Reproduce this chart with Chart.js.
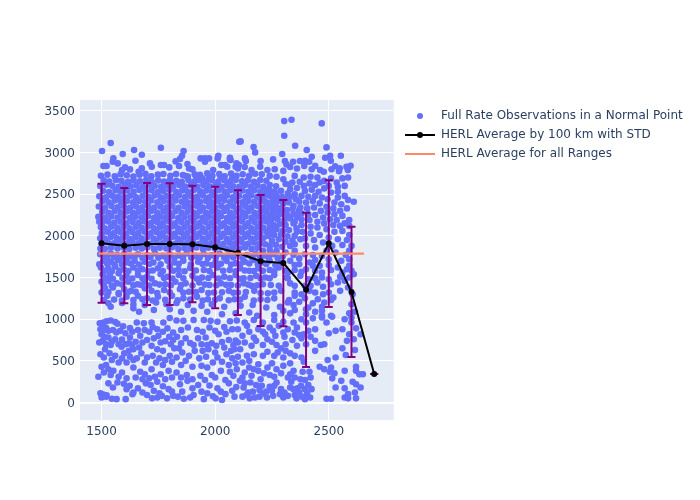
<!DOCTYPE html>
<html lang="en">
<head>
<meta charset="UTF-8">
<title>HERL Average</title>
<style>
  html, body { margin: 0; padding: 0; background: #fff; }
  #wrap { width: 700px; height: 500px; }
</style>
<script src="https://cdn.jsdelivr.net/npm/chart.js@4"></script>
</head>
<body>
<div id="wrap"><canvas id="chart" width="700" height="500"></canvas></div>
<script>
// range (km) of each average, and the averages with their std limits
const rangeBins = [1500, 1600, 1700, 1800, 1900, 2000, 2100, 2200, 2300, 2400, 2500, 2600, 2700];
const herlAvg = [1911, 1882, 1902, 1902, 1900, 1863, 1798, 1695, 1675, 1354, 1911, 1326, 342];
const herlHigh = [2627, 2575, 2635, 2631, 2603, 2590, 2547, 2490, 2430, 2278, 2667, 2110, 342];
const herlLow = [1198, 1190, 1170, 1170, 1202, 1130, 1050, 918, 914, 426, 1146, 546, 342];

// average over all ranges
const allRangeX = [1486, 2655];
const allRangeY = [1787, 1787];

const xTicks = [1500, 2000, 2500];
const yTicks = [0, 500, 1000, 1500, 2000, 2500, 3000, 3500];

const seriesNames = [
  "Full Rate Observations in a Normal Point",
  "HERL Average by 100 km with STD",
  "HERL Average for all Ranges"
];

// observations, scattered outliers on top
const obsTop = [
  [1540,3114],[1502,3018],[1593,2982],[1643,3030],[1677,2974],[1649,2902],[1552,2930],[1549,2890],[1571,2870],
  [1761,3058],[1861,3018],[1854,2962],[1845,2922],[1826,2894],[1713,2870],[1936,2930],[1955,2930],[1973,2930],
  [1955,2890],[2014,2962],[2011,2930],[2065,2938],[2068,2910],[2106,3130],[2043,2850],[2053,2830],[2027,2850],
  [1991,2790],[1508,2838],[1522,2838],[1603,2822],[1625,2798],[1590,2790],[1663,2770],[1677,2810],[1721,2830],
  [1761,2850],[1775,2850],[1798,2822],[1841,2838],[1878,2862],[1885,2810],[1900,2798],[1915,2718],[1871,2718],
  [1944,2690],[1973,2710],[2024,2702],[2075,2690],[2090,2830],[2104,2850],
  [2304,3378],[2336,3394],[2469,3350],[2304,3202],[2112,3134],[2169,3066],[2176,3002],[2352,3082],[2490,3062],
  [2403,3030],[2295,2982],[2506,2962],[2484,2938],[2509,2902],[2553,2962],[2425,2950],[2255,2918],[2200,2898],
  [2307,2898],[2314,2858],[2343,2890],[2373,2898],[2395,2902],[2414,2890],[2131,2930],[2135,2898],[2094,2870],
  [2065,2918],[2528,2836],[2512,2800],[2548,2810],[2578,2830],[2596,2842],[2584,2790],[2545,2776],[2440,2840],
  [2462,2790],[2478,2770],[2425,2800],[2392,2840],[2360,2808],[2330,2826],[2300,2780],[2262,2800],[2230,2790],
  [2198,2830],[2160,2790],[2130,2826],[2100,2808]
];

// the solid band of observations
const obsDense = [
  [1497,2722],[1526,2735],[1558,2716],[1584,2741],[1611,2728],[1640,2712],[1667,2733],[1693,2744],[1719,2716],[1748,2735],[1772,2742],[1803,2721],[1828,2742],[1858,2730],[1880,2712],[1910,2740],[1933,2733],[1965,2752],[1988,2722],[2018,2742],[2042,2716],[2070,2748],[2094,2722],[2121,2740],[2150,2722],[2176,2745],
  [1509,2668],[1534,2651],[1563,2672],[1588,2660],[1617,2649],[1641,2668],[1669,2655],[1697,2673],[1721,2647],[1749,2666],[1775,2652],[1801,2669],[1829,2660],[1853,2648],[1882,2671],[1908,2652],[1931,2668],[1961,2658],[1985,2671],[2013,2648],[2040,2667],[2065,2652],[2090,2672],[2118,2655],[2144,2668],[2171,2650],[2198,2670],[2225,2662],
  [1494,2598],[1521,2614],[1547,2602],[1575,2589],[1602,2610],[1628,2595],[1654,2606],[1682,2590],[1708,2612],[1734,2598],[1762,2589],[1787,2608],[1815,2594],[1842,2610],[1868,2592],[1893,2607],[1921,2590],[1948,2612],[1974,2596],[2001,2606],[2028,2590],[2053,2610],[2079,2596],[2106,2588],[2132,2610],[2158,2592],[2186,2605],[2212,2590],[2240,2610],[2268,2596],
  [1507,2542],[1533,2527],[1561,2548],[1586,2533],[1613,2544],[1641,2528],[1667,2551],[1694,2535],[1720,2547],[1748,2526],[1773,2540],[1800,2552],[1828,2530],[1855,2545],[1880,2529],[1906,2550],[1934,2534],[1961,2546],[1987,2528],[2014,2549],[2041,2533],[2066,2547],[2092,2526],[2120,2544],[2146,2530],[2172,2548],[2199,2532],[2226,2550],
  [1490,2476],[1519,2462],[1546,2483],[1572,2470],[1600,2466],[1626,2481],[1652,2464],[1680,2478],[1706,2468],[1733,2484],[1760,2462],[1786,2477],[1813,2470],[1840,2484],[1867,2465],[1892,2480],[1920,2468],[1946,2486],[1973,2464],[1999,2478],[2026,2470],[2052,2484],[2078,2462],[2105,2480],[2133,2466],[2158,2484],[2185,2470],[2212,2462],[2238,2482],[2266,2468],
  [1504,2416],[1531,2404],[1558,2424],[1585,2408],[1612,2420],[1639,2402],[1665,2418],[1692,2410],[1719,2426],[1746,2404],[1773,2418],[1799,2406],[1826,2424],[1853,2410],[1879,2402],[1906,2422],[1933,2408],[1960,2420],[1986,2404],[2013,2418],[2040,2426],[2066,2406],[2093,2420],[2120,2402],[2146,2418],[2172,2408],[2200,2424],[2226,2404],[2252,2418],
  [1488,2352],[1516,2340],[1544,2358],[1571,2344],[1598,2356],[1625,2338],[1652,2352],[1679,2344],[1705,2360],[1732,2340],[1759,2354],[1786,2342],[1812,2358],[1839,2338],[1866,2352],[1893,2346],[1920,2360],[1946,2340],[1973,2354],[2000,2342],[2027,2358],[2053,2344],[2080,2352],[2107,2338],[2134,2356],[2160,2344],[2187,2358],[2214,2340],[2240,2352],[2270,2344],
  [1503,2290],[1530,2278],[1557,2296],[1584,2282],[1611,2294],[1638,2276],[1664,2290],[1691,2282],[1718,2298],[1745,2278],[1772,2292],[1798,2284],[1825,2296],[1852,2276],[1879,2290],[1906,2280],[1932,2296],[1959,2278],[1986,2292],[2013,2284],[2040,2298],[2066,2276],[2093,2290],[2120,2282],[2146,2296],[2173,2278],[2200,2292],[2226,2284],[2254,2298],
  [1486,2228],[1515,2216],[1543,2234],[1570,2220],[1597,2232],[1624,2214],[1650,2230],[1677,2220],[1704,2236],[1731,2216],[1758,2230],[1784,2222],[1811,2236],[1838,2214],[1865,2228],[1892,2220],[1919,2234],[1945,2216],[1972,2230],[1999,2222],[2026,2236],[2052,2214],[2079,2228],[2106,2220],[2133,2234],[2160,2216],[2186,2230],[2213,2222],[2240,2236],[2268,2216],
  [1490,2170],[1502,2154],[1529,2172],[1556,2158],[1583,2170],[1610,2152],[1637,2168],[1664,2158],[1690,2174],[1717,2154],[1744,2168],[1771,2160],[1798,2174],[1824,2152],[1851,2166],[1878,2158],[1905,2172],[1932,2154],[1958,2168],[1985,2160],[2012,2174],[2039,2152],[2066,2166],[2092,2158],[2119,2172],[2146,2154],[2173,2168],[2200,2160],[2226,2174],
  [1497,2104],[1514,2092],[1542,2110],[1569,2096],[1596,2108],[1623,2090],[1650,2106],[1676,2096],[1703,2112],[1730,2092],[1757,2106],[1784,2098],[1810,2112],[1837,2090],[1864,2104],[1891,2096],[1918,2110],[1944,2092],[1971,2106],[1998,2098],[2025,2112],[2052,2090],[2078,2104],[2105,2096],[2132,2110],[2159,2092],[2186,2106],[2212,2098],[2240,2110],
  [1501,2030],[1528,2048],[1555,2034],[1582,2046],[1609,2028],[1636,2044],[1662,2034],[1689,2050],[1716,2030],[1743,2044],[1770,2036],[1797,2050],[1823,2028],[1850,2042],[1877,2034],[1904,2048],[1931,2030],[1957,2044],[1984,2036],[2011,2050],[2038,2028],[2064,2042],[2091,2034],[2118,2048],[2145,2030],[2172,2044],[2198,2036],[2226,2048],
  [1494,1972],[1514,1968],[1541,1986],[1568,1972],[1595,1984],[1622,1966],[1648,1982],[1675,1972],[1702,1988],[1729,1968],[1756,1982],[1783,1974],[1810,1988],[1836,1966],[1863,1980],[1890,1972],[1917,1986],[1944,1968],[1970,1982],[1997,1974],[2024,1988],[2051,1966],[2078,1980],[2104,1972],[2131,1986],[2158,1968],[2185,1982],[2212,1974],
  [1500,1906],[1527,1924],[1554,1910],[1581,1922],[1608,1904],[1635,1920],[1662,1910],[1688,1926],[1715,1906],[1742,1920],[1769,1912],[1796,1926],[1823,1904],[1849,1918],[1876,1910],[1903,1924],[1930,1906],[1957,1920],[1983,1912],[2010,1926],[2037,1904],[2064,1918],[2090,1910],[2117,1924],[2144,1906],[2171,1920],[2198,1912],
  [1495,1848],[1514,1844],[1541,1862],[1570,1848],[1597,1860],[1622,1842],[1650,1858],[1677,1848],[1702,1864],[1731,1844],[1756,1858],[1785,1850],[1810,1864],[1838,1842],[1865,1856],[1892,1848],[1917,1862],[1946,1844],[1970,1858],[1999,1850],[2024,1864],[2053,1842],[2078,1856],[2106,1848],[2131,1862],[2160,1844],[2186,1858]
];

// right of the band, thinning out towards 2600 km
const obsRight = [
  [2240,2548],[2262,2530],[2290,2540],[2270,2480],[2295,2465],[2280,2420],[2310,2440],[2300,2385],[2325,2400],[2345,2360],[2290,2330],[2315,2310],[2340,2322],[2368,2300],[2290,2262],[2318,2250],[2345,2262],[2275,2200],[2305,2190],[2330,2210],[2360,2225],[2285,2140],[2310,2130],[2345,2150],[2270,2080],[2298,2060],[2325,2070],[2358,2090],[2260,2010],[2290,2020],[2318,1995],[2350,2000],[2250,1940],[2280,1960],[2310,1930],[2340,1945],[2240,1880],[2268,1890],[2295,1870],[2330,1880],
  [2310,2622],[2340,2640],[2372,2650],[2390,2600],[2415,2630],[2440,2610],[2330,2560],[2360,2575],[2395,2540],[2425,2555],[2455,2530],[2480,2570],[2500,2600],[2535,2640],[2560,2690],[2585,2700],[2540,2590],[2570,2600],[2510,2520],[2540,2530],[2570,2480],[2585,2430],[2540,2460],[2610,2410],[2380,2480],[2410,2470],[2440,2480],[2470,2460],[2495,2440],[2525,2400],[2555,2380],[2580,2330],[2370,2410],[2400,2400],[2430,2420],[2460,2390],[2490,2350],[2520,2330],[2550,2300],[2375,2340],[2405,2330],[2435,2340],[2465,2300],[2495,2280],[2525,2260],[2560,2240],[2590,2190],[2380,2270],[2410,2260],[2440,2250],[2475,2220],[2505,2200],[2535,2190],[2570,2150],[2590,2120],[2380,2200],[2415,2190],[2450,2170],[2480,2150],[2520,2130],[2550,2120],[2380,2130],[2420,2110],[2450,2100],[2490,2080],[2525,2050],[2560,2060],[2590,2010],[2385,2050],[2420,2030],[2460,2010],[2500,1980],[2540,1960],[2580,1950],[2600,1880],[2395,1970],[2435,1950],[2475,1920],[2515,1880],[2560,1890],[2590,1820],[2400,1880],[2440,1860],[2490,1820],[2530,1800],[2575,1770],
  [2225,2510],[2255,2490],[2215,2420],[2268,2405],[2250,2350],[2225,2300],[2270,2290],[2255,2240],[2245,2180],[2258,2130],[2240,2060],[2255,2080],[2235,2000],[2220,1900],[2210,1820],[2240,1830],[2270,1820],[2310,1800],[2350,1820],[2330,2620],[2300,2680],[2270,2710],[2240,2720],[2205,2740],[2350,2720],[2390,2700],[2420,2710],[2450,2700],[2480,2660],[2510,2690],[2460,2640],[2350,2500],[2320,2510],[2355,2440],[2330,2470],[2350,2170],[2360,2050],[2375,1960],[2350,1900]
];

// the thinner part below the band
const obsMiddle = [
  [1494,1780],[1515,1760],[1540,1790],[1568,1770],[1600,1785],[1628,1762],[1660,1780],[1700,1770],[1735,1790],[1768,1760],[1800,1780],[1840,1765],[1875,1790],[1912,1760],[1950,1782],[1985,1768],[2020,1785],[2060,1765],[2098,1780],[2140,1770],[2178,1785],[2215,1765],[2255,1780],[2298,1760],[2345,1770],[2395,1780],[2430,1770],[2470,1760],[2555,1700],[2590,1720],
  [1508,1700],[1540,1690],[1572,1710],[1610,1680],[1645,1700],[1690,1690],[1728,1680],[1790,1700],[1820,1680],[1860,1700],[1925,1690],[1962,1670],[2002,1690],[2050,1700],[2090,1670],[2130,1690],[2170,1710],[2208,1680],[2240,1700],[2290,1680],[2330,1700],[2370,1660],[2415,1680],[2460,1640],[2540,1620],[2590,1640],
  [1497,1620],[1530,1610],[1560,1630],[1598,1600],[1640,1620],[1680,1600],[1748,1610],[1800,1630],[1838,1600],[1890,1615],[1950,1590],[2010,1620],[2064,1590],[2110,1610],[2150,1580],[2190,1610],[2240,1590],[2280,1620],[2350,1590],[2400,1600],[2470,1560],[2560,1560],[2600,1580],
  [1505,1540],[1536,1530],[1575,1550],[1610,1520],[1660,1530],[1700,1510],[1760,1540],[1790,1510],[1840,1530],[1900,1520],[1942,1500],[1990,1530],[2040,1510],[2090,1530],[2125,1490],[2180,1520],[2220,1500],[2260,1530],[2315,1500],[2375,1520],[2440,1490],[2500,1480],[2590,1500],
  [1500,1450],[1530,1460],[1568,1430],[1618,1450],[1658,1420],[1690,1450],[1735,1430],[1780,1420],[1825,1450],[1870,1430],[1930,1440],[1975,1410],[2025,1430],[2070,1410],[2125,1430],[2160,1400],[2210,1420],[2280,1400],[2330,1430],[2395,1400],[2475,1390],[2510,1420],[2585,1380],
  [1515,1370],[1550,1380],[1600,1360],[1630,1340],[1690,1370],[1720,1340],[1775,1350],[1845,1360],[1885,1330],[1940,1350],[1995,1320],[2060,1340],[2100,1320],[2172,1340],[2232,1310],[2290,1340],[2350,1320],[2415,1340],[2475,1300],[2605,1300],[2520,1260],
  [1525,1280],[1576,1300],[1610,1270],[1660,1280],[1700,1250],[1748,1270],[1810,1280],[1860,1250],[1920,1270],[1968,1240],[2020,1250],[2085,1240],[2130,1270],[2200,1240],[2260,1250],[2325,1230],[2395,1250],[2452,1240],[2510,1230],[2600,1180],
  [1530,1190],[1590,1195],[1640,1175],[1690,1170],[1740,1200],[1785,1180],[1830,1195],[1880,1170],[1940,1160],[1985,1180],[2040,1150],[2112,1160],[2165,1170],[2225,1140],[2285,1150],[2345,1170],[2410,1140],[2470,1150],[2590,1070],
  [1540,1150],[1640,1130],[1665,1090],[1730,1110],[1800,1120],[1850,1090],[1905,1100],[1965,1090],[2030,1060],[2090,1070],[2150,1080],[2185,1040],[2260,1050],[2330,1070],[2400,1060],[2470,1040],[2515,1030],[2600,1020],[2615,1090],
  [1525,1740],[1555,1745],[1585,1735],[1615,1740],[1645,1748],[1680,1735],[1715,1745],[1750,1738],[1785,1742],[1820,1735],[1858,1745],[1895,1738],[1932,1740],[1968,1735],[2003,1745],[2040,1738],[2080,1742],[2120,1735],[2160,1745],[2198,1738],[2235,1742],[2275,1735],
  [1490,1660],[1525,1665],[1557,1655],[1590,1660],[1628,1668],[1665,1655],[1710,1662],[1760,1658],[1840,1665],[1893,1655],[1945,1662],[1985,1650],[2025,1665],[2070,1655],[2110,1660],[2150,1668],[2188,1655],[2225,1662],[2265,1650],
  [1515,1580],[1545,1575],[1580,1585],[1618,1578],[1660,1582],[1705,1575],[1725,1585],[1770,1578],[1815,1582],[1865,1575],[1915,1585],[1975,1578],[2035,1582],[2090,1575],[2130,1585],[2170,1578],[2210,1580],[2260,1575],[2310,1582],
  [1520,1490],[1550,1485],[1592,1495],[1635,1488],[1680,1492],[1720,1485],[1775,1495],[1812,1488],[1860,1490],[1920,1485],[1970,1495],[2015,1488],[2065,1492],[2108,1485],[2155,1495],[2200,1488],[2240,1490],
  [1510,1410],[1545,1405],[1590,1415],[1640,1408],[1672,1412],[1710,1405],[1755,1415],[1805,1408],[1850,1410],[1900,1405],[1955,1415],[2005,1408],[2048,1412],[2100,1405],[2145,1415],[2185,1408],[2245,1410],
  [1500,1320],[1530,1325],[1575,1315],[1615,1320],[1650,1328],[1745,1315],[1800,1322],[1860,1318],[1915,1325],[1970,1315],[2030,1322],[2080,1318],[2135,1325],[2200,1315],[2260,1320],
  [1510,1230],[1555,1235],[1590,1225],[1640,1230],[1680,1238],[1725,1225],[1780,1232],[1835,1228],[1890,1235],[1945,1225],[2000,1232],[2060,1228],[2110,1235],[2170,1225],[2230,1230],
  [2300,1100],[2350,1110],[2400,1120],[2440,1090],[2470,1100],[2320,1200],[2370,1210],[2430,1190],[2480,1200],[2350,1280],[2380,1300],[2440,1320],[2500,1320],[2550,1340],[2350,1400],[2420,1400],[2450,1440],[2540,1440],[2570,1460],[2320,1490],[2410,1480],[2470,1500],[2550,1510],[2320,1560],[2380,1570],[2440,1580],[2510,1590],[2580,1600],[2610,1540],[2370,1730],[2440,1710],[2500,1720],[2350,1650],[2430,1640],[2500,1650]
];

// scattered part under 1000
const obsLow = [
  [1492,950],[1508,960],[1522,975],[1540,985],[1560,965],[1508,925],[1520,895],[1570,945],[1595,915],[1625,895],[1655,960],[1686,950],[1720,960],[1772,960],[1800,1015],[1830,985],[1860,980],[1905,990],[1950,990],[1980,980],[2010,970],[2040,905],[2065,975],[2095,985],
  [1490,720],[1505,740],[1520,700],[1540,690],[1560,760],[1590,755],[1625,780],[1650,730],[1670,800],[1690,870],[1710,850],[1750,800],[1780,735],[1805,700],[1832,790],[1870,770],[1890,715],[1925,770],[1958,780],[1985,710],[2015,820],[2030,725],[2060,750],[2090,745],
  [1500,820],[1512,790],[1530,780],[1565,840],[1588,670],[1620,710],[1640,640],[1665,660],[1720,680],[1745,640],[1770,620],[1798,790],[1840,650],[1855,600],[1885,560],[1910,620],[1945,620],[1970,640],[2000,600],[2010,540],[2050,580],[2075,530],[2085,640],
  [1515,640],[1535,590],[1560,560],[1590,530],[1620,620],[1640,510],[1655,530],[1690,480],[1725,560],[1755,530],[1780,510],[1810,490],[1850,450],[1900,430],[1940,440],[1965,420],
  [1500,430],[1530,400],[1520,450],[1552,380],[1590,360],[1610,480],[1640,420],[1670,370],[1690,340],[1720,400],[1735,310],[1760,340],[1795,380],[1830,360],[1875,330],[1935,320],[2000,300],[2045,270],[2080,320],
  [1486,310],[1570,240],[1598,225],[1624,200],[1640,120],[1660,170],[1695,230],[1716,210],[1745,250],[1770,195],[1795,160],[1845,220],[1878,260],[1925,210],[1975,205],[2010,170],[2025,130],[2060,230],[2093,185],
  [1495,110],[1508,95],[1522,85],[1500,60],[1520,70],[1545,45],[1566,40],[1606,40],[1636,100],[1722,50],[1745,60],[1765,80],[1788,50],[1815,80],[1836,70],[1862,45],[1890,60],[1905,90],[1950,40],[1990,75],[2002,50],[2030,30],[2085,70],
  [2109,260],[2125,180],[2138,90],[2152,50],[2166,130],[2180,210],[2195,70],[2212,110],[2228,60],[2240,190],[2255,80],[2270,240],[2285,100],[2300,60],[2120,70],[2145,120],[2175,60],[2205,200],[2250,140],[2120,300],[2160,320],[2200,280],[2240,330],[2290,160],[2305,120],
  [2358,50],[2370,120],[2382,70],[2395,40],[2405,110],[2418,60],[2424,160],[2362,170],[2378,200],[2395,160],[2410,210],[2350,90],[2335,250],[2350,300],[2375,280],[2395,270],[2420,300],[2415,370],[2385,370],[2345,380],[2330,340],
  [2490,45],[2510,45],[2570,60],[2585,50],[2620,50],[2585,100],[2615,120],[2640,180],[2620,220],[2605,250],[2570,170],[2530,180],[2555,260],[2515,290],[2525,350],[2505,370],[2480,400],[2510,420],[2570,380],[2635,340],[2650,340],[2620,380],[2620,430],
  [2150,420],[2190,380],[2230,420],[2270,400],[2120,480],[2150,500],[2190,460],[2250,470],[2300,440],[2330,470],[2210,560],[2260,560],[2300,540],[2330,590],[2390,490],[2440,620],[2495,510],[2460,430],[2480,700],[2465,690],
  [2070,620],[2110,640],[2160,680],[2210,690],[2250,730],[2290,650],[2310,700],[2360,680],[2400,700],[2440,740],[2120,800],[2170,780],[2220,820],[2265,800],[2305,790],[2350,840],[2390,820],[2420,790],[2100,880],[2140,920],[2190,880],[2240,900],[2280,920],[2320,880],[2360,900],[2400,960],[2440,880],
  [2500,830],[2530,860],[2560,880],[2590,820],[2610,760],[2580,740],[2560,650],[2615,630],[2640,820],[2620,890],[2600,960],[2570,1000],[2530,540],[2575,570],[2470,1020],[2510,1040],[2490,960],
  [1495,880],[1510,870],[1530,860],[1550,870],[1582,860],[1605,830],[1635,850],[1660,870],[1725,905],[1745,880],[1770,850],[1790,890],[1815,840],[1850,870],[1880,900],[1920,870],[1945,850],[1975,900],[2000,860],[2050,850],[2075,880],
  [1545,730],[1575,700],[1605,700],[1635,690],[1680,720],[1700,750],[1730,770],[1760,720],[1820,650],[1815,750],[1850,710],[1905,690],[1940,700],[1965,690],[2005,680],[2040,660],[2080,690],
  [1495,580],[1510,540],[1545,510],[1575,480],[1600,590],[1625,550],[1675,590],[1700,540],[1740,480],[1770,450],[1800,560],[1830,540],[1870,500],[1930,530],[1960,550],[1990,480],[2030,490],[2060,450],[2090,470],
  [1510,360],[1540,330],[1575,310],[1610,290],[1650,300],[1680,280],[1710,290],[1780,280],[1810,300],[1850,300],[1900,280],[1955,270],[1985,330],[2025,380],[2065,370],[2095,400],
  [1530,230],[1550,180],[1610,160],[1680,120],[1700,90],[1730,140],[1755,110],[1810,130],[1855,130],[1900,170],[1940,130],[1965,110],[2045,100],[2075,140],
  [2130,230],[2155,240],[2195,150],[2225,130],[2260,200],[2130,360],[2170,400],[2215,350],[2260,310],[2290,350],[2320,300],[2330,180],[2320,80],[2345,160],[2140,560],[2170,580],[2230,610],[2275,600],[2310,620],[2350,560],[2380,540],[2100,550],[2130,720],[2180,740],[2230,760],[2270,690],[2340,750],[2380,770],[2100,720],[2150,850],[2210,850],[2255,860],[2300,840],[2370,810],[2410,860],[2130,960],[2170,990],[2210,960],[2260,990],[2300,970],[2345,960],[2380,1000],[2430,1010]
];

const obsPoints = [].concat(obsTop, obsDense, obsRight, obsMiddle, obsLow);

const plotX = [1405, 2786];
const plotY = [-210, 3631];

// std bars as one line dataset broken by gaps, caps are the end points
const stdBars = [];
rangeBins.forEach((r, i) => {
  stdBars.push({ x: r, y: herlLow[i] }, { x: r, y: herlHigh[i] }, { x: r, y: NaN });
});

// legend symbols
function symbol(draw) {
  const c = document.createElement("canvas");
  c.width = 30;
  c.height = 12;
  draw(c.getContext("2d"));
  return c;
}
const dotSymbol = symbol(g => {
  g.fillStyle = "#636efa";
  g.beginPath(); g.arc(15, 6, 3, 0, Math.PI * 2); g.fill();
});
const lineDotSymbol = symbol(g => {
  g.strokeStyle = "#000"; g.lineWidth = 2;
  g.beginPath(); g.moveTo(0, 6); g.lineTo(30, 6); g.stroke();
  g.fillStyle = "#000";
  g.beginPath(); g.arc(15, 6, 3, 0, Math.PI * 2); g.fill();
});
const orangeSymbol = symbol(g => {
  g.strokeStyle = "#ff8a65"; g.lineWidth = 2;
  g.beginPath(); g.moveTo(0, 6); g.lineTo(30, 6); g.stroke();
});
const legendSymbols = [dotSymbol, lineDotSymbol, orangeSymbol];

const inkColor = "#2a3f5f";

new Chart(document.getElementById("chart"), {
  type: "scatter",
  data: {
    datasets: [
      {
        label: seriesNames[0],
        data: obsPoints.map(p => ({ x: p[0], y: p[1] })),
        backgroundColor: "#636efa",
        borderWidth: 0,
        pointRadius: 3.3,
        order: 4
      },
      {
        label: seriesNames[1],
        data: rangeBins.map((r, i) => ({ x: r, y: herlAvg[i] })),
        showLine: true,
        borderColor: "#000",
        backgroundColor: "#000",
        borderWidth: 2,
        pointBorderWidth: 0,
        pointRadius: 3,
        order: 2
      },
      {
        label: seriesNames[2],
        data: allRangeX.map((x, i) => ({ x: x, y: allRangeY[i] })),
        showLine: true,
        borderColor: "#ff8a65",
        borderWidth: 2.4,
        pointRadius: 0,
        order: 1
      },
      {
        label: "std",
        data: stdBars,
        showLine: true,
        spanGaps: false,
        borderColor: "#800080",
        backgroundColor: "#800080",
        borderWidth: 2,
        pointStyle: "line",
        pointBorderColor: "#800080",
        pointBorderWidth: 2,
        pointRadius: 4,
        order: 3
      }
    ]
  },
  options: {
    responsive: false,
    animation: false,
    // the legend keeps a quarter of what padding leaves, so 175 lands the plot edge at 394
    layout: { padding: { left: 0, top: 100, right: 175, bottom: 40 } },
    plugins: {
      tooltip: { enabled: false },
      legend: {
        position: "right",
        align: "start",
        labels: {
          color: inkColor,
          font: { family: "'DejaVu Sans'", size: 12 },
          padding: 7,
          usePointStyle: true,
          pointStyleWidth: 30,
          filter: item => item.datasetIndex < 3,
          generateLabels: chart => chart.data.datasets.map((d, i) => ({
            text: d.label,
            fontColor: inkColor,
            pointStyle: legendSymbols[i] || "circle",
            datasetIndex: i,
            lineWidth: 0,
            strokeStyle: "transparent",
            fillStyle: "transparent"
          }))
        }
      }
    },
    scales: {
      x: {
        type: "linear",
        min: plotX[0],
        max: plotX[1],
        afterFit: s => { s.height = 40; },
        afterBuildTicks: s => { s.ticks = xTicks.map(v => ({ value: v })); },
        border: { display: false },
        grid: { color: "#fff", lineWidth: 1, drawTicks: false },
        ticks: {
          color: inkColor,
          font: { family: "'DejaVu Sans'", size: 12 },
          padding: 5,
          maxRotation: 0,
          callback: v => String(v)
        }
      },
      y: {
        type: "linear",
        min: plotY[0],
        max: plotY[1],
        afterFit: s => { s.width = 80; },
        afterBuildTicks: s => { s.ticks = yTicks.map(v => ({ value: v })); },
        border: { display: false },
        grid: {
          color: "#fff",
          lineWidth: c => (c.tick && c.tick.value === 0 ? 2 : 1),
          drawTicks: false
        },
        ticks: {
          color: inkColor,
          font: { family: "'DejaVu Sans'", size: 12 },
          padding: 5,
          labelOffset: 1,
          callback: v => String(v)
        }
      }
    }
  },
  plugins: [{
    // plot background and legend placement
    id: "plotDressing",
    afterLayout: chart => {
      const lg = chart.legend;
      lg.top += 3;
      lg.left = 398;
      lg.right = 700;
      lg.width = 302;
    },
    beforeDraw: chart => {
      const a = chart.chartArea;
      chart.ctx.fillStyle = "#e5ecf6";
      chart.ctx.fillRect(a.left, a.top, a.width, a.height);
    }
  }]
});
</script>
</body>
</html>
